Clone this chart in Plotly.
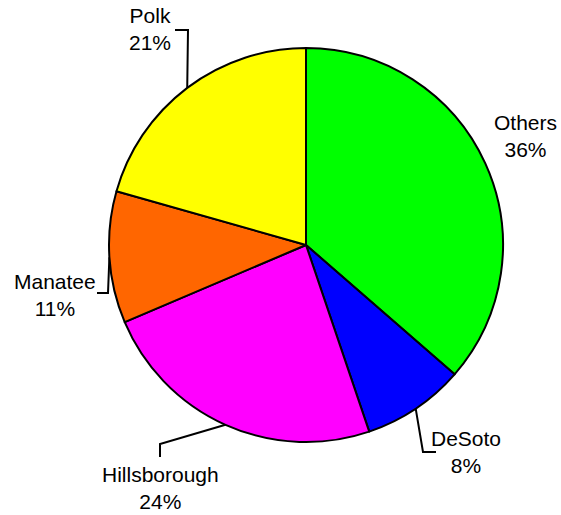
import math

import plotly.graph_objects as go

W, H = 561, 515

counties = ["Others", "DeSoto", "Hillsborough", "Manatee", "Polk"]
shares = [36.4, 8.4, 23.8, 10.8, 20.6]
colors = ["#00FF00", "#0000FF", "#FF00FF", "#FF6600", "#FFFF00"]

# pie geometry in pixels
cx, cy, r = 306, 245, 197

# label block centre and leader elbow / end (pixels); None = no leader
label_pos = {
    "Others": ((525, 136), None),
    "DeSoto": ((466, 452), [(423, 452), (436, 452)]),
    "Hillsborough": ((160, 488), [(160, 444), (160, 457)]),
    "Manatee": ((55, 295), [(108, 293), (97, 293)]),
    "Polk": ((150, 29), [(188, 30), (175, 30)]),
}

fig = go.Figure()
fig.add_trace(go.Pie(
    labels=counties, values=shares, sort=False, direction="clockwise", rotation=0,
    marker=dict(colors=colors, line=dict(color="black", width=2)),
    textinfo="none", hoverinfo="label+percent", showlegend=False,
    domain=dict(x=[(cx - r) / W, (cx + r) / W], y=[1 - (cy + r) / H, 1 - (cy - r) / H]),
))

total = sum(shares)
cum = 0
for name, v in zip(counties, shares):
    mid = (cum + v / 2) / total * 2 * math.pi
    cum += v
    ax, ay = cx + r * math.sin(mid), cy - r * math.cos(mid)
    (tx, ty), leader = label_pos[name]
    if leader:
        xs = [ax] + [p[0] for p in leader]
        ys = [ay] + [p[1] for p in leader]
        fig.add_trace(go.Scatter(x=xs, y=ys, mode="lines", line=dict(color="black", width=2),
                                 hoverinfo="skip", showlegend=False))
    fig.add_annotation(x=tx, y=ty, text=f"{name}<br>{round(v / total * 100)}%", showarrow=False,
                       xanchor="center", yanchor="middle", font=dict(size=21, color="black"))

fig.update_layout(
    width=W, height=H, margin=dict(l=0, r=0, t=0, b=0),
    paper_bgcolor="white", plot_bgcolor="rgba(0,0,0,0)",
    font=dict(family="Liberation Sans, Arial, sans-serif"),
    xaxis=dict(range=[0, W], visible=False, fixedrange=True),
    yaxis=dict(range=[H, 0], visible=False, fixedrange=True),
)
# drop the default page margin so the figure fills the window
fig.write_html("out.html", config={"displayModeBar": False},
               post_script="document.body.style.margin = '0';")
